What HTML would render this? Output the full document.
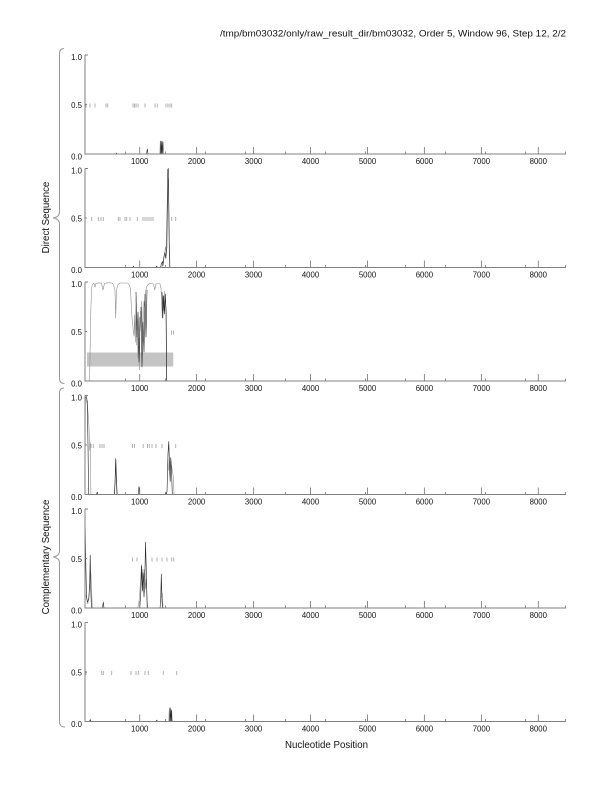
<!DOCTYPE html>
<html><head><meta charset="utf-8"><style>
html,body{margin:0;padding:0;background:#fff;}
svg{display:block;}
text{font-family:"Liberation Sans",Arial,sans-serif;fill:#111;}
.ax{stroke:#808080;stroke-width:1;fill:none;}
.tk{stroke:#808080;stroke-width:0.9;fill:none;}
.dash{stroke:#aaa;stroke-width:0.9;fill:none;}
.bk{stroke:#222;stroke-width:0.6;fill:none;stroke-linejoin:round;}
.gr{stroke:#909090;stroke-width:0.6;fill:none;stroke-linejoin:round;}
.yl{font-size:7.8px;text-anchor:end;}
.xl{font-size:7.8px;text-anchor:middle;}
.br{stroke:#999;stroke-width:1;fill:none;}
</style></head><body>
<svg width="612" height="792" viewBox="0 0 612 792" xmlns="http://www.w3.org/2000/svg">
<rect width="612" height="792" fill="#fff"/>
<text x="220" y="36.5" font-size="9.6" textLength="346" lengthAdjust="spacingAndGlyphs">/tmp/bm03032/only/raw_result_dir/bm03032, Order 5, Window 96, Step 12, 2/2</text>

<!-- braces -->
<path class="br" d="M64,48.5 Q59.5,48.5 59.5,54 L59.5,212 Q59.5,217 53,218 Q59.5,219 59.5,224 L59.5,378 Q59.5,383.5 64.5,383.5"/>
<path class="br" d="M64,388 Q59.5,388 59.5,393 L59.5,551 Q59.5,556 53,557 Q59.5,558 59.5,563 L59.5,721.5 Q59.5,727 65,727"/>
<text transform="translate(49,217.5) rotate(-90)" font-size="9.7" text-anchor="middle">Direct Sequence</text>
<text transform="translate(49,557) rotate(-90)" font-size="9.7" text-anchor="middle">Complementary Sequence</text>

<text x="326.5" y="748" font-size="9.7" text-anchor="middle" textLength="83" lengthAdjust="spacingAndGlyphs">Nucleotide Position</text>

<!-- Panel 1 -->
<g transform="translate(0,55)">
<path class="dash" d="M86,48.5v4M90,48.5v4M95,48.5v4M106,48.5v4M107.7,48.5v4M133,48.5v4M134.5,48.5v4M136,48.5v4M138,48.5v4M145,48.5v4M155,48.5v4M157.3,48.5v4M166,48.5v4M168,48.5v4M170,48.5v4M171.7,48.5v4"/>
<path class="gr" d="M159.8,99 L160.3,86 L160.8,99 L161.3,86 L161.8,99 L162.3,86 L162.8,99 L163.3,87 L163.8,99"/>
<path class="bk" d="M85,99 H116 L116.5,98 L117,99 H146.5 L147.3,94 L148,99 H160.5 L161,86 L161.6,99 L162.2,87 L162.8,99 H176"/>
<path class="ax" d="M85,0 V99 H566"/>
<path class="tk" d="M85,0H88M85,49.5H87M139.7,92V99M196.6,92V99M253.6,92V99M310.5,92V99M367.5,92V99M424.4,92V99M481.4,92V99M538.3,92V99M125.5,96.5V99M165.5,96.5V99M205.5,96.5V99M245.5,96.5V99M285.5,96.5V99M325.5,96.5V99M365.5,96.5V99M405.5,96.5V99M445.5,96.5V99M485.5,96.5V99M525.5,96.5V99M565.5,96.5V99"/>
<text class="yl" x="82" y="4.8">1.0</text><text class="yl" x="82" y="53">0.5</text><text class="yl" x="82" y="104.3">0.0</text>
<text class="xl" x="139.7" y="109">1000</text><text class="xl" x="196.6" y="109">2000</text><text class="xl" x="253.6" y="109">3000</text><text class="xl" x="310.5" y="109">4000</text><text class="xl" x="367.5" y="109">5000</text><text class="xl" x="424.4" y="109">6000</text><text class="xl" x="481.4" y="109">7000</text><text class="xl" x="538.3" y="109">8000</text>
</g>

<!-- Panel 2 -->
<g transform="translate(0,168.5)">
<path class="dash" d="M91.7,48.5v4M98.3,48.5v4M101,48.5v4M103.3,48.5v4M118.3,48.5v4M120,48.5v4M125,48.5v4M126.7,48.5v4M130,48.5v4M137.3,48.5v4M143,48.5v4M145,48.5v4M147,48.5v4M149,48.5v4M151,48.5v4M153,48.5v4M171.7,48.5v4M175.7,48.5v4"/>
<path class="gr" d="M162,99 L163.5,91 L164.5,86 L165.5,78 L166.2,85 L167,79 L168,20 L168.6,10 L169.2,70 L170,99"/>
<path class="bk" d="M85,99 H133 L133.3,97.5 L133.7,99 H156.3 L156.7,97.5 L157.2,99 H160.5 L161.5,95 L162.5,93 L163,97 L164,88 L165,84 L165.8,90 L166.5,82 L167.8,1 L168.3,0 L168.8,40 L169.3,85 L169.8,99 H176"/>
<path class="ax" d="M85,0 V99 H566"/>
<path class="tk" d="M85,0H88M85,49.5H87M139.7,92V99M196.6,92V99M253.6,92V99M310.5,92V99M367.5,92V99M424.4,92V99M481.4,92V99M538.3,92V99M125.5,96.5V99M165.5,96.5V99M205.5,96.5V99M245.5,96.5V99M285.5,96.5V99M325.5,96.5V99M365.5,96.5V99M405.5,96.5V99M445.5,96.5V99M485.5,96.5V99M525.5,96.5V99M565.5,96.5V99"/>
<text class="yl" x="82" y="4.8">1.0</text><text class="yl" x="82" y="53">0.5</text><text class="yl" x="82" y="104.3">0.0</text>
<text class="xl" x="139.7" y="109">1000</text><text class="xl" x="196.6" y="109">2000</text><text class="xl" x="253.6" y="109">3000</text><text class="xl" x="310.5" y="109">4000</text><text class="xl" x="367.5" y="109">5000</text><text class="xl" x="424.4" y="109">6000</text><text class="xl" x="481.4" y="109">7000</text><text class="xl" x="538.3" y="109">8000</text>
</g>

<!-- Panel 3 -->
<g transform="translate(0,282)">
<rect x="87" y="70.5" width="86.3" height="14" fill="#c4c4c4"/>
<path class="dash" d="M171.5,48.5v4M173.5,48.5v4"/>
<path class="gr" d="M85,99 H89.5 C90.5,60 90.6,12 92,4 Q93,1.2 94,1.5 L95,5 L96,1.5 Q98.5,0.5 101.5,1.2 L103,8 L104.5,1.5 Q108,0.5 112,1 Q114,1.8 115,9 L115.7,36 L116.4,9 Q117.5,1.5 120,1 L127,1 Q129.5,1.8 130.5,7 L131.5,28 L132.3,39 L133.3,49 L134,54 L134.7,33 L135.3,60 L136,16 L136.7,63 L137.3,46 L138,76 L138.7,56 L139.3,88 L140.3,29 L141,49 L141.7,19 L142.7,60 L143.3,33 L144,19 L144.7,26 L145.7,9 L147,4 Q149,1 151,1.5 L153.5,2 L154.7,8 L156,2 Q158,0.5 160,2 L161,6 L162.3,36 L163,13 L164,29 L164.7,9 L165.7,23 L166.3,30 L166.8,99 H176"/>
<path class="bk" d="M136,10 L137,55 L138,30 L139,80 L140,35 M141,25 L142,85 L143,40 L144,70 L145,12 L146,55 L147,8 M162,10 L162.8,36 L163.6,14 L164.5,32 L165.3,12 L166,28 L166.6,99"/>
<path class="ax" d="M85,0 V99 H566"/>
<path class="tk" d="M85,0H88M85,49.5H87M139.7,92V99M196.6,92V99M253.6,92V99M310.5,92V99M367.5,92V99M424.4,92V99M481.4,92V99M538.3,92V99M125.5,96.5V99M165.5,96.5V99M205.5,96.5V99M245.5,96.5V99M285.5,96.5V99M325.5,96.5V99M365.5,96.5V99M405.5,96.5V99M445.5,96.5V99M485.5,96.5V99M525.5,96.5V99M565.5,96.5V99"/>
<text class="yl" x="82" y="4.8">1.0</text><text class="yl" x="82" y="53">0.5</text><text class="yl" x="82" y="104.3">0.0</text>
<text class="xl" x="139.7" y="109">1000</text><text class="xl" x="196.6" y="109">2000</text><text class="xl" x="253.6" y="109">3000</text><text class="xl" x="310.5" y="109">4000</text><text class="xl" x="367.5" y="109">5000</text><text class="xl" x="424.4" y="109">6000</text><text class="xl" x="481.4" y="109">7000</text><text class="xl" x="538.3" y="109">8000</text>
</g>

<!-- Panel 4 -->
<g transform="translate(0,395.5)">
<path class="dash" d="M91,48.5v4M93.3,48.5v4M100,48.5v4M102,48.5v4M104,48.5v4M132.5,48.5v4M134.5,48.5v4M143.2,48.5v4M147.5,48.5v4M149.3,48.5v4M152,48.5v4M156,48.5v4M162,48.5v4M175.7,48.5v4"/>
<path class="gr" d="M86,4 L87.5,10 L88.8,28 L89.8,55 L90.3,47 L90.9,99 M114.5,99 L115.4,80 L116,65 L116.8,90 L117.4,99 M168.5,75 L169.3,62 L170,78 L170.7,66 L171.3,70 L172,73 L172.8,78 L173.5,82 L174,99"/>
<path class="bk" d="M85,99 L85.3,3 L86.3,1 L87.3,6 L88,50 L88.6,99 H96.5 L97.3,96.5 L98,99 H114.2 L115,88 L115.7,63 L116.3,84 L117,99 H138.3 L139,91 L139.7,99 H165 L165.7,97 L166.3,99 L167,96 L168,58 L168.8,46 L169.5,72 L170.2,86 L170.8,62 L171.6,76 L172.3,99 H176"/>
<path class="ax" d="M85,0 V99 H566"/>
<path class="tk" d="M85,0H88M85,49.5H87M139.7,92V99M196.6,92V99M253.6,92V99M310.5,92V99M367.5,92V99M424.4,92V99M481.4,92V99M538.3,92V99M125.5,96.5V99M165.5,96.5V99M205.5,96.5V99M245.5,96.5V99M285.5,96.5V99M325.5,96.5V99M365.5,96.5V99M405.5,96.5V99M445.5,96.5V99M485.5,96.5V99M525.5,96.5V99M565.5,96.5V99"/>
<text class="yl" x="82" y="4.8">1.0</text><text class="yl" x="82" y="53">0.5</text><text class="yl" x="82" y="104.3">0.0</text>
<text class="xl" x="139.7" y="109">1000</text><text class="xl" x="196.6" y="109">2000</text><text class="xl" x="253.6" y="109">3000</text><text class="xl" x="310.5" y="109">4000</text><text class="xl" x="367.5" y="109">5000</text><text class="xl" x="424.4" y="109">6000</text><text class="xl" x="481.4" y="109">7000</text><text class="xl" x="538.3" y="109">8000</text>
</g>

<!-- Panel 5 -->
<g transform="translate(0,509)">
<path class="dash" d="M132.5,48.5v4M137,48.5v4M152,48.5v4M157,48.5v4M162,48.5v4M167,48.5v4M171.7,48.5v4M173.7,48.5v4"/>
<path class="gr" d="M86,86 L87.8,95 L89,86 L90,70 L90.9,64 L91.6,82 L92.3,99 M137.5,99 L138.5,96 L139.5,88 L140.5,72 L141.4,58 L142.2,70 L143,60 L143.8,74 L144.6,60 L145.4,80 L146.2,70 L147,90 L147.8,99 M161.5,88 L162.3,84 L163,99"/>
<path class="bk" d="M85,99 L85,1 L85.6,45 L86.5,88 L87.5,93 L88.8,90 L89.7,75 L90.2,46 L90.8,80 L91.4,99 H102.5 L103.3,93 L104,99 H139.8 L140.8,84 L141.6,56 L142.4,82 L143.2,64 L144,88 L144.8,72 L145.5,33 L146.3,62 L147.2,99 H160 L160.7,92 L161.3,65 L162,92 L162.6,99 H176"/>
<path class="ax" d="M85,0 V99 H566"/>
<path class="tk" d="M85,0H88M85,49.5H87M139.7,92V99M196.6,92V99M253.6,92V99M310.5,92V99M367.5,92V99M424.4,92V99M481.4,92V99M538.3,92V99M125.5,96.5V99M165.5,96.5V99M205.5,96.5V99M245.5,96.5V99M285.5,96.5V99M325.5,96.5V99M365.5,96.5V99M405.5,96.5V99M445.5,96.5V99M485.5,96.5V99M525.5,96.5V99M565.5,96.5V99"/>
<text class="yl" x="82" y="4.8">1.0</text><text class="yl" x="82" y="53">0.5</text><text class="yl" x="82" y="104.3">0.0</text>
<text class="xl" x="139.7" y="109">1000</text><text class="xl" x="196.6" y="109">2000</text><text class="xl" x="253.6" y="109">3000</text><text class="xl" x="310.5" y="109">4000</text><text class="xl" x="367.5" y="109">5000</text><text class="xl" x="424.4" y="109">6000</text><text class="xl" x="481.4" y="109">7000</text><text class="xl" x="538.3" y="109">8000</text>
</g>

<!-- Panel 6 -->
<g transform="translate(0,622.5)">
<path class="dash" d="M86,48.5v4M101.7,48.5v4M103.3,48.5v4M111.7,48.5v4M131,48.5v4M136,48.5v4M138.3,48.5v4M145,48.5v4M148.3,48.5v4M163.3,48.5v4M176.7,48.5v4"/>
<path class="gr" d="M168.8,99 L169.3,85 L169.9,99 L170.5,85 L171.1,99 L171.7,87 L172.3,99"/>
<path class="bk" d="M85,99 H89.5 L90.2,97 L90.9,99 H156.2 L156.8,97.5 L157.4,99 H169.6 L170.1,86 L170.7,99 L171.3,88 L171.9,99 H176"/>
<path class="ax" d="M85,0 V99 H566"/>
<path class="tk" d="M85,0H88M85,49.5H87M139.7,92V99M196.6,92V99M253.6,92V99M310.5,92V99M367.5,92V99M424.4,92V99M481.4,92V99M538.3,92V99M125.5,96.5V99M165.5,96.5V99M205.5,96.5V99M245.5,96.5V99M285.5,96.5V99M325.5,96.5V99M365.5,96.5V99M405.5,96.5V99M445.5,96.5V99M485.5,96.5V99M525.5,96.5V99M565.5,96.5V99"/>
<text class="yl" x="82" y="4.8">1.0</text><text class="yl" x="82" y="53">0.5</text><text class="yl" x="82" y="104.3">0.0</text>
<text class="xl" x="139.7" y="109">1000</text><text class="xl" x="196.6" y="109">2000</text><text class="xl" x="253.6" y="109">3000</text><text class="xl" x="310.5" y="109">4000</text><text class="xl" x="367.5" y="109">5000</text><text class="xl" x="424.4" y="109">6000</text><text class="xl" x="481.4" y="109">7000</text><text class="xl" x="538.3" y="109">8000</text>
</g>
</svg>
</body></html>
